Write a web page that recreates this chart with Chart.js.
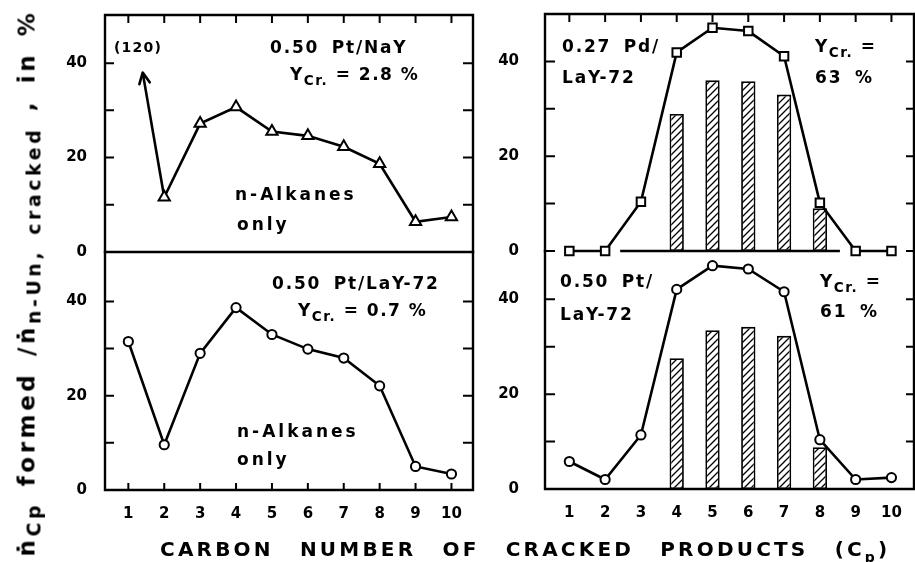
<!DOCTYPE html>
<html>
<head>
<meta charset="utf-8">
<script src="https://cdn.jsdelivr.net/npm/chart.js@4.4.1/dist/chart.umd.min.js"></script>
<style>
html,body{margin:0;padding:0;background:#fff;}
#wrap{position:relative;width:915px;height:562px;overflow:hidden;background:#fff;}
#wrap canvas{position:absolute;left:0;top:0;}
.t{position:absolute;font-family:"DejaVu Sans",sans-serif;font-weight:bold;color:#000;white-space:nowrap;line-height:1;}
.a{font-size:17px;letter-spacing:1.8px;word-spacing:5px;}
.n{letter-spacing:3px;}
.y{word-spacing:0px;letter-spacing:1.5px;}
.a sub{font-size:0.8em;vertical-align:-0.35em;line-height:0;}
.s{font-size:14px;letter-spacing:1.2px;}
#ytitle{left:27px;top:283px;font-size:23px;letter-spacing:3.6px;word-spacing:4px;transform:translate(-50%,-50%) rotate(-90deg);}
#ytitle sub{font-size:0.82em;vertical-align:-0.3em;line-height:0;}
#xtitle{left:160px;top:539px;font-size:20px;letter-spacing:3.2px;word-spacing:16px;}
#xtitle sub{font-size:0.7em;vertical-align:-0.45em;line-height:0;}
</style>
</head>
<body>
<div id="wrap">
<canvas id="cA" width="915" height="562"></canvas>
<canvas id="cB" width="915" height="562"></canvas>
<canvas id="cC" width="915" height="562"></canvas>
<canvas id="cD" width="915" height="562"></canvas>

<div class="t s" style="left:114px;top:40px;">(120)</div>
<div class="t a" style="left:270px;top:39px;">0.50 Pt/NaY</div>
<div class="t a y" style="left:290px;top:66px;">Y<sub>Cr.</sub> = 2.8 %</div>
<div class="t a n" style="left:235px;top:186px;">n-Alkanes</div>
<div class="t a n" style="left:237px;top:216px;">only</div>

<div class="t a" style="left:272px;top:275px;">0.50 Pt/LaY-72</div>
<div class="t a y" style="left:298px;top:302px;">Y<sub>Cr.</sub> = 0.7 %</div>
<div class="t a n" style="left:237px;top:423px;">n-Alkanes</div>
<div class="t a n" style="left:237px;top:451px;">only</div>

<div class="t a" style="left:562px;top:38px;">0.27 Pd/</div>
<div class="t a" style="left:562px;top:69px;">LaY-72</div>
<div class="t a y" style="left:815px;top:38px;">Y<sub>Cr.</sub> =</div>
<div class="t a" style="left:815px;top:69px;">63 %</div>

<div class="t a" style="left:560px;top:273px;">0.50 Pt/</div>
<div class="t a" style="left:560px;top:306px;">LaY-72</div>
<div class="t a y" style="left:820px;top:273px;">Y<sub>Cr.</sub> =</div>
<div class="t a" style="left:820px;top:303px;">61 %</div>

<div id="ytitle" class="t">ṅ<sub>Cp</sub> formed /ṅ<sub>n-Un, cracked</sub> , in %</div>
<div id="xtitle" class="t">CARBON NUMBER OF CRACKED PRODUCTS (C<sub>p</sub>)</div>
</div>

<script>
// ---------------- data ----------------
const carbonNumbers = [1, 2, 3, 4, 5, 6, 7, 8, 9, 10];
const yTickValues = [0, 10, 20, 30, 40];

// 0.50 Pt/NaY, n-alkanes only (triangles); C1 is off scale (120)
const ptNaY = [null, 11.6, 27.2, 30.7, 25.5, 24.6, 22.3, 18.7, 6.4, 7.4];
const ptNaYArrowX = [2, 1.4];
const ptNaYArrowY = [11.6, 38];

// 0.50 Pt/LaY-72, n-alkanes only (circles), Ycr = 0.7 %
const ptLaYAlkanes = [31.5, 9.6, 29.0, 38.7, 33.0, 29.9, 28.0, 22.1, 5.0, 3.4];

// 0.27 Pd/LaY-72 (squares + hatched bars), Ycr = 63 %
const pdLaY = [0, 0, 10.4, 41.9, 47.1, 46.4, 41.1, 10.2, 0, 0];
const pdLaYBars = [null, null, null, 28.9, 36.0, 35.8, 33.0, 9.0, null, null];
const pdBaselineX = [2.42, 8.56];

// 0.50 Pt/LaY-72 (circles + hatched bars), Ycr = 61 %
const ptLaY = [5.8, 2.0, 11.4, 42.1, 47.1, 46.4, 41.6, 10.4, 2.0, 2.4];
const ptLaYBars = [null, null, null, 27.6, 33.5, 34.2, 32.3, 8.8, null, null];

// ---------------- helpers ----------------
const FONT = '"DejaVu Sans", sans-serif';
function pts(xs, ys) {
  const out = [];
  xs.forEach((x, i) => { if (ys[i] !== null && ys[i] !== undefined) out.push({x: x, y: ys[i]}); });
  return out;
}
function hatch() {
  const n = 7;
  const c = document.createElement('canvas'); c.width = n; c.height = n;
  const g = c.getContext('2d');
  g.fillStyle = '#fff'; g.fillRect(0, 0, n, n);
  g.strokeStyle = '#000'; g.lineWidth = 1.3;
  g.beginPath();
  g.moveTo(0, n); g.lineTo(n, 0);
  g.moveTo(-n / 2, n / 2); g.lineTo(n / 2, -n / 2);
  g.moveTo(n / 2, n * 1.5); g.lineTo(n * 1.5, n / 2);
  g.stroke();
  return g.createPattern(c, 'repeat');
}

const framePlugin = {
  id: 'frame',
  beforeDatasetsDraw(chart, args, o) {
    const {ctx, chartArea: a, scales} = chart;
    const xs = scales.x, ys = scales.y;
    ctx.save();
    ctx.strokeStyle = '#000';
    ctx.lineWidth = 2.4;
    ctx.lineCap = 'square';
    ctx.beginPath();
    if (o.top) { ctx.moveTo(a.left, a.top); ctx.lineTo(a.right, a.top); }
    if (o.bottom) { ctx.moveTo(a.left, a.bottom); ctx.lineTo(a.right, a.bottom); }
    if (o.left) { ctx.moveTo(a.left, a.top); ctx.lineTo(a.left, a.bottom); }
    if (o.right) { ctx.moveTo(a.right, a.top); ctx.lineTo(a.right, a.bottom); }
    ctx.stroke();
    ctx.lineWidth = 2;
    ctx.lineCap = 'butt';
    ctx.beginPath();
    carbonNumbers.forEach(v => {
      const px = xs.getPixelForValue(v);
      if (o.tTop) { ctx.moveTo(px, a.top); ctx.lineTo(px, a.top + o.tTop); }
      if (o.tBottom) { ctx.moveTo(px, a.bottom); ctx.lineTo(px, a.bottom - o.tBottom); }
    });
    yTickValues.forEach(v => {
      const py = ys.getPixelForValue(v);
      if (o.tLeft) { ctx.moveTo(a.left, py); ctx.lineTo(a.left + o.tLeft, py); }
      if (o.tRight) { ctx.moveTo(a.right, py); ctx.lineTo(a.right - o.tRight, py); }
    });
    ctx.stroke();
    ctx.restore();
  }
};

const arrowPlugin = {
  id: 'arrowHead',
  afterDatasetsDraw(chart, args, o) {
    if (o.dataset === undefined) return;
    const meta = chart.getDatasetMeta(o.dataset);
    const els = meta.data;
    if (els.length < 2) return;
    const p0 = els[els.length - 2], p1 = els[els.length - 1];
    const ang = Math.atan2(p1.y - p0.y, p1.x - p0.x);
    const L = 12, w = 0.45;
    const ctx = chart.ctx;
    ctx.save();
    ctx.strokeStyle = '#000'; ctx.lineWidth = 2.6; ctx.lineCap = 'round'; ctx.lineJoin = 'round';
    ctx.beginPath();
    ctx.moveTo(p1.x - L * Math.cos(ang - w), p1.y - L * Math.sin(ang - w));
    ctx.lineTo(p1.x, p1.y);
    ctx.lineTo(p1.x - L * Math.cos(ang + w), p1.y - L * Math.sin(ang + w));
    ctx.stroke();
    ctx.restore();
  }
};

function lineDS(data, style, r) {
  return {
    type: 'line', data: data, borderColor: '#000', borderWidth: 2.6,
    pointStyle: style, pointRadius: r, pointBackgroundColor: '#fff',
    pointBorderColor: '#000', pointBorderWidth: 2, tension: 0, clip: false, order: 0
  };
}
function barDS(data) {
  return {
    type: 'bar', data: data, backgroundColor: hatch(), borderColor: '#000',
    borderWidth: 1.8, borderSkipped: false, barPercentage: 0.4, categoryPercentage: 1,
    clip: false, order: 2
  };
}
function plainDS(data) {
  return {type: 'line', data: data, borderColor: '#000', borderWidth: 2.6, pointRadius: 0, tension: 0, clip: false, order: 1};
}

function makePanel(id, g, datasets, frame, showX, labelPad, arrowIdx) {
  const yW = 50, xH = 30;
  new Chart(document.getElementById(id), {
    type: 'line',
    data: {datasets: datasets},
    options: {
      responsive: false, animation: false, events: [],
      layout: {autoPadding: false, padding: {
        left: g.left - yW, right: 915 - g.right, top: g.top,
        bottom: 562 - g.bottom - (showX ? xH : 0)
      }},
      scales: {
        x: {
          type: 'linear', min: g.xMin, max: g.xMax, offset: false, display: showX,
          position: 'bottom',
          grid: {display: false, drawTicks: false, tickLength: 0}, border: {display: false},
          ticks: {stepSize: 1, includeBounds: false, autoSkip: false, maxRotation: 0,
            color: '#000', padding: 15, font: {family: FONT, weight: 'bold', size: 15},
            callback: v => (carbonNumbers.includes(v) ? String(v) : '')},
          afterFit: s => { s.height = showX ? xH : 0; s.paddingLeft = 0; s.paddingRight = 0; }
        },
        y: {
          type: 'linear', min: 0, max: g.yMax, position: 'left',
          grid: {display: false, drawTicks: false, tickLength: 0}, border: {display: false},
          ticks: {stepSize: 10, includeBounds: false, autoSkip: false, color: '#000',
            padding: labelPad, font: {family: FONT, weight: 'bold', size: 15},
            callback: v => (Math.abs(v % 20) < 1e-6 && v <= 40 ? String(Math.round(v)) : '')},
          afterFit: s => { s.width = yW; s.paddingTop = 0; s.paddingBottom = 0; }
        }
      },
      plugins: {
        legend: {display: false}, tooltip: {enabled: false},
        frame: frame,
        arrowHead: {dataset: arrowIdx}
      }
    },
    plugins: [framePlugin, arrowPlugin]
  });
}

// panel A: top-left
makePanel('cA', {left: 105, right: 473, top: 15, bottom: 252, xMin: 0.35, xMax: 10.6, yMax: 50.2},
  [lineDS(pts(carbonNumbers, ptNaY), 'triangle', 6.5), plainDS(pts(ptNaYArrowX, ptNaYArrowY))],
  {top: true, bottom: true, left: true, right: true, tTop: 8, tLeft: 9, tRight: 10}, false, 18, 1);

// panel B: bottom-left
makePanel('cB', {left: 105, right: 473, top: 252, bottom: 490, xMin: 0.35, xMax: 10.6, yMax: 50.5},
  [lineDS(pts(carbonNumbers, ptLaYAlkanes), 'circle', 4.6)],
  {bottom: true, left: true, right: true, tBottom: 7, tLeft: 9, tRight: 10}, true, 18);

// panel C: top-right
makePanel('cC', {left: 545, right: 914, top: 14, bottom: 251, xMin: 0.32, xMax: 10.63, yMax: 50},
  [lineDS(pts(carbonNumbers, pdLaY), 'rect', 6), plainDS(pts(pdBaselineX, [0, 0])), barDS(pts(carbonNumbers, pdLaYBars))],
  {top: true, left: true, right: true, tTop: 8, tLeft: 10, tRight: 8}, false, 26);

// panel D: bottom-right
makePanel('cD', {left: 545, right: 914, top: 251, bottom: 489, xMin: 0.32, xMax: 10.63, yMax: 50.2},
  [lineDS(pts(carbonNumbers, ptLaY), 'circle', 4.6), barDS(pts(carbonNumbers, ptLaYBars))],
  {bottom: true, left: true, right: true, tLeft: 10, tRight: 8}, true, 26);
</script>
</body>
</html>
